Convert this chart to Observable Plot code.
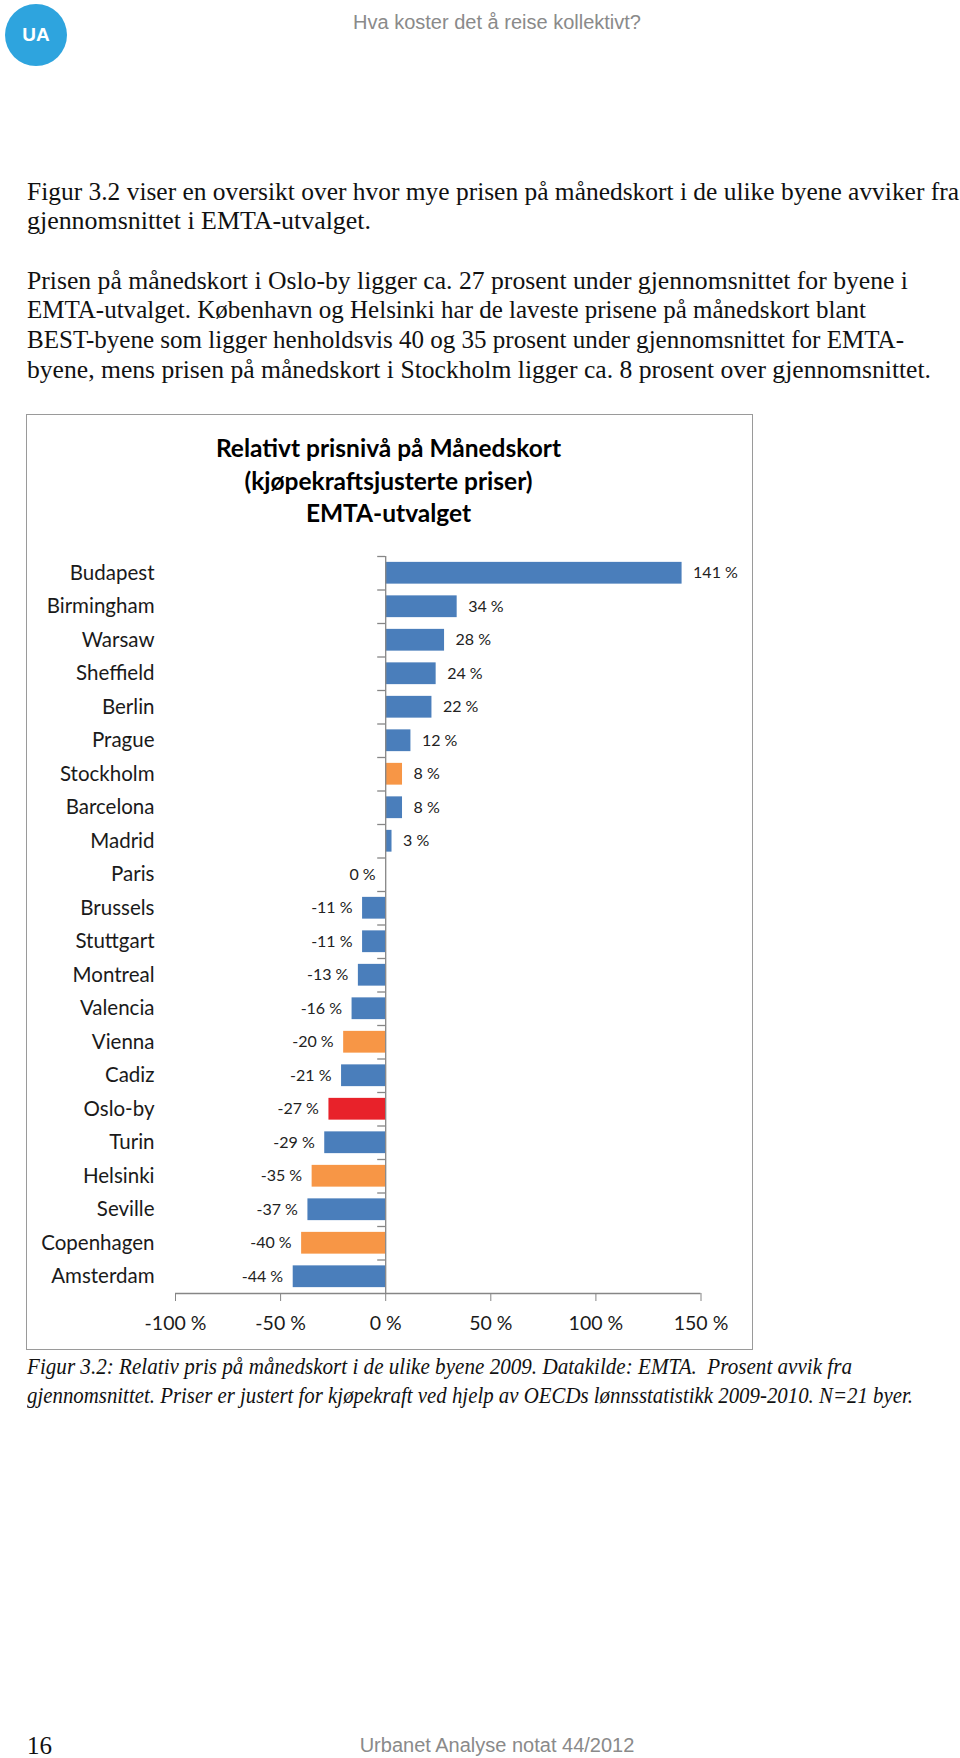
<!DOCTYPE html>
<html>
<head>
<meta charset="utf-8">
<script src="https://cdn.jsdelivr.net/npm/d3@7"></script>
<script src="https://cdn.jsdelivr.net/npm/@observablehq/plot@0.6"></script>
<style>
  html, body { margin: 0; padding: 0; background: #fff; }
  body { width: 960px; height: 1758px; position: relative; overflow: hidden; }
  .abs { position: absolute; white-space: nowrap; }
  .serif { font-family: "Liberation Serif", "Times New Roman", serif; color: #111; font-size: 25px; line-height: 29.6px; transform-origin: 0 50%; }
  .cap { font-family: "Liberation Serif", serif; font-style: italic; color: #111; font-size: 23px; line-height: 29px; transform-origin: 0 50%; }
  .hdr { font-family: "Liberation Sans", Arial, sans-serif; color: #8a8a8a; font-size: 20px; }
  #logo { left: 5px; top: 4px; width: 62px; height: 62px; border-radius: 50%; background: #2ea4de; color: #fff;
          font-family: "Liberation Sans", Arial, sans-serif; font-weight: bold; font-size: 19px; text-align: center; line-height: 62px; }
  #frame { left: 26px; top: 414px; width: 725px; height: 934px; border: 1.5px solid #9a9a9a; }
  #ctitle { left: 26px; top: 432px; width: 725px; text-align: center; font-family: Lato, sans-serif; font-weight: bold;
            font-size: 24.5px; line-height: 32.5px; color: #000; }
  #chart { left: 27px; top: 540px; }
</style>
</head>
<body>
<div id="logo" class="abs">UA</div>
<div class="abs hdr" style="left:0;width:994px;text-align:center;top:11px;">Hva koster det å reise kollektivt?</div>

<div class="abs serif fit" data-w="932" style="left:27px;top:177px;">Figur 3.2 viser en oversikt over hvor mye prisen på månedskort i de ulike byene avviker fra</div>
<div class="abs serif fit" data-w="344" style="left:27px;top:206.4px;">gjennomsnittet i EMTA-utvalget.</div>
<div class="abs serif fit" data-w="881" style="left:27px;top:265.6px;">Prisen på månedskort i Oslo-by ligger ca. 27 prosent under gjennomsnittet for byene i</div>
<div class="abs serif fit" data-w="839" style="left:27px;top:295px;">EMTA-utvalget. København og Helsinki har de laveste prisene på månedskort blant</div>
<div class="abs serif fit" data-w="877" style="left:27px;top:325px;">BEST-byene som ligger henholdsvis 40 og 35 prosent under gjennomsnittet for EMTA-</div>
<div class="abs serif fit" data-w="904" style="left:27px;top:355px;">byene, mens prisen på månedskort i Stockholm ligger ca. 8 prosent over gjennomsnittet.</div>

<div id="frame" class="abs"></div>
<div id="ctitle" class="abs">Relativt prisnivå på Månedskort<br>(kjøpekraftsjusterte priser)<br>EMTA-utvalget</div>
<div id="chart" class="abs"></div>

<div class="abs cap fit" data-w="825" style="left:27px;top:1352px;">Figur 3.2: Relativ pris på månedskort i de ulike byene 2009. Datakilde: EMTA.&nbsp; Prosent avvik fra</div>
<div class="abs cap fit" data-w="886" style="left:27px;top:1381px;">gjennomsnittet. Priser er justert for kjøpekraft ved hjelp av OECDs lønnsstatistikk 2009-2010. N=21 byer.</div>

<div class="abs serif" style="left:27px;top:1731px;">16</div>
<div class="abs hdr" style="left:0;width:994px;text-align:center;top:1734px;">Urbanet Analyse notat 44/2012</div>

<script>
const cities = ["Budapest","Birmingham","Warsaw","Sheffield","Berlin","Prague","Stockholm","Barcelona","Madrid","Paris","Brussels","Stuttgart","Montreal","Valencia","Vienna","Cadiz","Oslo-by","Turin","Helsinki","Seville","Copenhagen","Amsterdam"];
const values = [141,34,28,24,22,12,8,8,3,0,-11,-11,-13,-16,-20,-21,-27,-29,-35,-37,-40,-44];
const groups = ["EMTA","EMTA","EMTA","EMTA","EMTA","EMTA","BEST","EMTA","EMTA","EMTA","EMTA","EMTA","EMTA","EMTA","BEST","EMTA","Oslo","EMTA","BEST","EMTA","BEST","EMTA"];
const groupNames = ["EMTA","BEST","Oslo"];
const groupColors = ["#4a7ebb","#f79646","#e8222a"];
const xTicks = [-100,-50,0,50,100,150];

const data = cities.map((c, i) => ({city: c, value: values[i], group: groups[i]}));

const W = 725, H = 805, mT = 16, mB = 52;
const step = (H - mT - mB) / cities.length;
const axisColor = "#868686";

const chart = Plot.plot({
  width: W, height: H,
  marginLeft: 148, marginRight: 51.5, marginTop: mT, marginBottom: mB,
  style: {fontFamily: "Lato, sans-serif", background: "transparent", overflow: "visible", color: "#1a1a1a"},
  x: {domain: [xTicks[0], xTicks[xTicks.length - 1]]},
  y: {domain: cities, paddingInner: 0.35, paddingOuter: 0.175, round: false},
  color: {domain: groupNames, range: groupColors},
  marks: [
    Plot.barX(data, {x: "value", y: "city", fill: "group"}),
    Plot.ruleY(cities, {y: d => d, dy: -step / 2, x1: 0, x2: 0, insetLeft: -8, stroke: axisColor, strokeWidth: 1.3}),
    Plot.ruleY([cities[cities.length - 1]], {y: d => d, dy: step / 2, x1: xTicks[0], x2: xTicks[xTicks.length - 1], stroke: axisColor, strokeWidth: 1.3}),
    Plot.ruleX([0], {stroke: axisColor, strokeWidth: 1.3}),
    Plot.axisX({anchor: "bottom", ticks: xTicks, tickFormat: d => `${d} %`, tickSize: 8, tickPadding: 15, fontSize: 19.5, stroke: axisColor, fill: "#1a1a1a", label: null}),
    Plot.axisY({anchor: "left", tickSize: 0, tickPadding: 21, fontSize: 20.5, fill: "#1a1a1a", label: null}),
    Plot.text(data.filter(d => d.value > 0), {x: "value", y: "city", text: d => `${d.value} %`, dx: 11, textAnchor: "start", fontSize: 16, fill: "#222"}),
    Plot.text(data.filter(d => d.value <= 0), {x: "value", y: "city", text: d => `${d.value} %`, dx: -10, textAnchor: "end", fontSize: 16, fill: "#222"})
  ]
});
document.getElementById("chart").appendChild(chart);

function fitLines() {
  document.querySelectorAll(".fit").forEach(el => {
    el.style.transform = "none";
    const w = el.getBoundingClientRect().width;
    const target = +el.dataset.w;
    if (w > 0) el.style.transform = `scaleX(${target / w})`;
  });
}
fitLines();
if (document.fonts && document.fonts.ready) document.fonts.ready.then(fitLines);
</script>
</body>
</html>
